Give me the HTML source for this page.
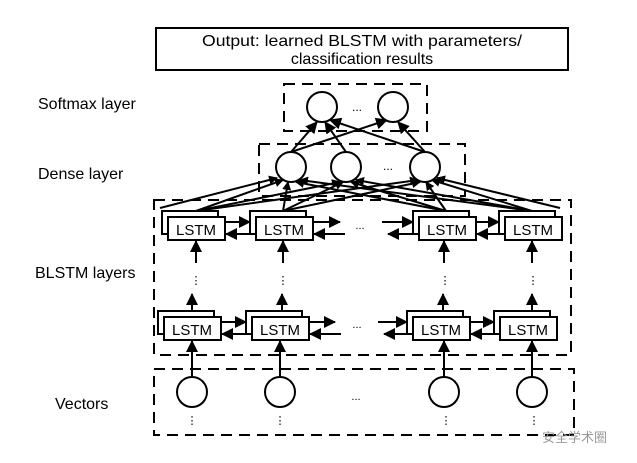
<!DOCTYPE html>
<html><head><meta charset="utf-8"><style>
html,body{margin:0;padding:0;background:#fff}
svg{display:block}
text{font-family:"Liberation Sans","Noto Sans CJK SC",sans-serif;fill:#000}
</style></head><body>
<svg width="637" height="463" viewBox="0 0 637 463" xmlns="http://www.w3.org/2000/svg">
<defs>
<marker id="a" markerWidth="9" markerHeight="9" refX="8" refY="4.5" orient="auto" markerUnits="userSpaceOnUse" viewBox="0 0 9 9"><path d="M0,0 L9,4.5 L0,9 z"/></marker>
<marker id="b" markerWidth="12" markerHeight="12" refX="11" refY="6" orient="auto" markerUnits="userSpaceOnUse" viewBox="0 0 12 12"><path d="M0,0 L12,6 L0,12 z"/></marker>
</defs>
<rect x="156" y="28" width="412" height="42" fill="none" stroke="#000" stroke-width="2"/>
<text x="362" y="46" font-size="16" text-anchor="middle" textLength="320" lengthAdjust="spacingAndGlyphs">Output: learned BLSTM with parameters/</text>
<text x="362" y="64" font-size="16" text-anchor="middle">classification results</text>
<text x="38" y="109" font-size="16">Softmax  layer</text>
<text x="38" y="179" font-size="16">Dense layer</text>
<text x="35" y="278" font-size="16">BLSTM layers</text>
<text x="55" y="409" font-size="16">Vectors</text>
<g fill="none" stroke="#000" stroke-width="2" stroke-dasharray="11,7">
<rect x="284" y="84" width="143" height="47"/>
<rect x="259" y="144" width="206" height="52"/>
<rect x="154" y="200" width="417" height="155"/>
<rect x="154" y="369" width="420" height="66"/>
</g>
<g stroke="#000" stroke-width="2" marker-end="url(#b)">
<line x1="291" y1="152" x2="317" y2="122"/>
<line x1="291" y1="152" x2="387" y2="120"/>
<line x1="346" y1="152" x2="325" y2="122"/>
<line x1="425" y1="152" x2="330" y2="120"/>
<line x1="425" y1="152" x2="398" y2="122"/>
</g>
<g stroke="#000" stroke-width="2" marker-end="url(#a)">
<line x1="196" y1="211" x2="283" y2="180"/><line x1="196" y1="211" x2="340" y2="182"/><line x1="196" y1="211" x2="418" y2="180"/>
<line x1="283" y1="211" x2="288" y2="182"/><line x1="283" y1="211" x2="343" y2="182"/><line x1="283" y1="211" x2="420" y2="182"/>
<line x1="446" y1="211" x2="296" y2="182"/><line x1="446" y1="211" x2="351" y2="182"/><line x1="446" y1="211" x2="426" y2="182"/>
<line x1="532" y1="211" x2="300" y2="180"/><line x1="532" y1="211" x2="356" y2="180"/><line x1="532" y1="211" x2="432" y2="180"/>
<line x1="160" y1="208" x2="277" y2="178"/><line x1="560" y1="208" x2="437" y2="178"/>
</g>
<g fill="#fff" stroke="#000" stroke-width="2">
<circle cx="322" cy="107" r="15"/><circle cx="393" cy="107" r="15"/>
<circle cx="291" cy="167" r="15"/><circle cx="346" cy="167" r="15"/><circle cx="425" cy="167" r="15"/>
</g>
<text x="357" y="111" font-size="12" text-anchor="middle">...</text>
<text x="388" y="170" font-size="12" text-anchor="middle">...</text>
<g stroke="#000" stroke-width="2" fill="#fff">
<rect x="162" y="211" width="56" height="23"/><rect x="168" y="217" width="57" height="23"/>
<rect x="250" y="211" width="56" height="23"/><rect x="256" y="217" width="57" height="23"/>
<rect x="413" y="211" width="56" height="23"/><rect x="419" y="217" width="57" height="23"/>
<rect x="499" y="211" width="56" height="23"/><rect x="505" y="217" width="57" height="23"/>
<rect x="158" y="311" width="56" height="23"/><rect x="164" y="317" width="57" height="23"/>
<rect x="246" y="311" width="56" height="23"/><rect x="252" y="317" width="57" height="23"/>
<rect x="407" y="311" width="56" height="23"/><rect x="413" y="317" width="57" height="23"/>
<rect x="494" y="311" width="56" height="23"/><rect x="500" y="317" width="57" height="23"/>
</g>
<g font-size="15" text-anchor="middle">
<text x="196" y="235">LSTM</text><text x="284" y="235">LSTM</text><text x="447" y="235">LSTM</text><text x="533" y="235">LSTM</text>
<text x="192" y="335">LSTM</text><text x="280" y="335">LSTM</text><text x="441" y="335">LSTM</text><text x="528" y="335">LSTM</text>
</g>
<g stroke="#000" stroke-width="2" marker-end="url(#b)">
<line x1="225" y1="222" x2="250" y2="222"/><line x1="256" y1="234" x2="226" y2="234"/>
<line x1="313" y1="222" x2="340" y2="222"/><line x1="345" y1="234" x2="314" y2="234"/>
<line x1="382" y1="222" x2="413" y2="222"/><line x1="419" y1="234" x2="388" y2="234"/>
<line x1="476" y1="222" x2="499" y2="222"/><line x1="505" y1="234" x2="477" y2="234"/>
<line x1="221" y1="322" x2="246" y2="322"/><line x1="252" y1="334" x2="222" y2="334"/>
<line x1="309" y1="322" x2="335" y2="322"/><line x1="341" y1="334" x2="310" y2="334"/>
<line x1="378" y1="322" x2="407" y2="322"/><line x1="413" y1="334" x2="384" y2="334"/>
<line x1="470" y1="322" x2="494" y2="322"/><line x1="500" y1="334" x2="471" y2="334"/>
<line x1="196" y1="263" x2="196" y2="241"/><line x1="283" y1="263" x2="283" y2="241"/><line x1="444" y1="263" x2="444" y2="241"/><line x1="532" y1="263" x2="532" y2="241"/>
<line x1="192" y1="311" x2="192" y2="294"/><line x1="282" y1="311" x2="282" y2="294"/><line x1="443" y1="311" x2="443" y2="294"/><line x1="532" y1="311" x2="532" y2="294"/>
<line x1="192" y1="377" x2="192" y2="341"/><line x1="280" y1="377" x2="280" y2="341"/><line x1="444" y1="377" x2="444" y2="341"/><line x1="532" y1="377" x2="532" y2="341"/>
</g>
<g font-size="11" text-anchor="middle">
<text x="196" y="284">⋮</text><text x="283" y="284">⋮</text><text x="445" y="284">⋮</text><text x="533" y="284">⋮</text>
<text x="192" y="424">⋮</text><text x="280" y="424">⋮</text><text x="446" y="424">⋮</text><text x="534" y="424">⋮</text>
<text x="360" y="229">...</text><text x="357" y="328">...</text><text x="356" y="400">...</text>
</g>
<g fill="#fff" stroke="#000" stroke-width="2">
<circle cx="192" cy="392" r="15"/><circle cx="280" cy="392" r="15"/><circle cx="444" cy="392" r="15"/><circle cx="532" cy="392" r="15"/>
</g>
<text x="542" y="442" font-size="13" style="fill:#999">安全学术圈</text>
</svg>
</body></html>
